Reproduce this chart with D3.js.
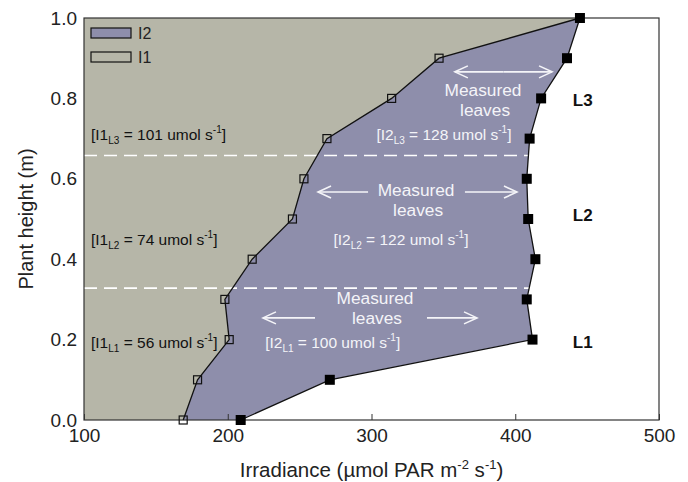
<!DOCTYPE html>
<html>
<head>
<meta charset="utf-8">
<script src="https://cdn.jsdelivr.net/npm/d3@7.9.0/dist/d3.min.js"></script>
<style>
  body { margin: 0; background: #fff; }
  svg { display: block; font-family: "Liberation Sans", Arial, sans-serif; }
</style>
</head>
<body>
<svg id="chart" width="688" height="482"></svg>
<script>
// Data
const heights = [0, 0.1, 0.2, 0.3, 0.4, 0.5, 0.6, 0.7, 0.8, 0.9, 1.0];
const i1 = [169, 179, 201, 198, 217, 245, 253, 269, 314, 347, 445];
const i2 = [209, 271, 412, 408, 414, 409, 408, 410, 418, 436, 445];
const xTicks = [100, 200, 300, 400, 500];
const yTicks = [0, 0.2, 0.4, 0.6, 0.8, 1.0];
const layerBounds = [0.328, 0.658];
const layerNames = ["L1", "L2", "L3"];
const i1Layer = [56, 74, 101];
const i2Layer = [100, 122, 128];

const W = 688, H = 482;
const margin = { top: 18, right: 29, bottom: 62, left: 84 };
const grayFill = "#b6b6a8";
const purpleFill = "#8e8eab";
const ink = "#222";
const light = "#f4f4f8";

const svg = d3.select("#chart");
const x = d3.scaleLinear().domain([100, 500]).range([margin.left, W - margin.right]);
const y = d3.scaleLinear().domain([0, 1]).range([H - margin.bottom, margin.top]);

const pts = heights.map((h, i) => ({ h, a: i1[i], b: i2[i] }));

// Filled areas
svg.append("path")
    .datum(pts)
    .attr("fill", grayFill)
    .attr("d", d3.area().y(d => y(d.h)).x0(x(100)).x1(d => x(d.a)));

svg.append("path")
    .datum(pts)
    .attr("fill", purpleFill)
    .attr("d", d3.area().y(d => y(d.h)).x0(d => x(d.a)).x1(d => x(d.b)));

// Dashed layer boundaries
svg.selectAll(".layer")
    .data(layerBounds)
    .join("line")
    .attr("x1", x(100)).attr("x2", x(500) + 2)
    .attr("y1", d => y(d)).attr("y2", d => y(d))
    .attr("stroke", "#fff")
    .attr("stroke-width", 1.6)
    .attr("stroke-dasharray", "13,7");

// Frame + axes
svg.append("rect")
    .attr("x", x(100)).attr("y", y(1))
    .attr("width", x(500) - x(100)).attr("height", y(0) - y(1))
    .attr("fill", "none").attr("stroke", "#333").attr("stroke-width", 1.2);

const xAxis = svg.append("g")
    .attr("transform", `translate(0,${y(0)})`)
    .call(d3.axisBottom(x).tickValues(xTicks).tickSizeInner(-6).tickSizeOuter(0).tickPadding(9).tickFormat(d3.format("d")));
xAxis.select(".domain").remove();
xAxis.selectAll("line").attr("stroke", "#333");
xAxis.selectAll("text").attr("font-size", 19).attr("fill", ink).attr("font-family", "Liberation Sans, Arial, sans-serif");

const yAxis = svg.append("g")
    .attr("transform", `translate(${x(100)},0)`)
    .call(d3.axisLeft(y).tickValues(yTicks).tickSize(0).tickPadding(7).tickFormat(d3.format(".1f")));
yAxis.select(".domain").remove();
yAxis.selectAll("text").attr("font-size", 19).attr("fill", ink).attr("font-family", "Liberation Sans, Arial, sans-serif");

// Axis titles
const xt = svg.append("text")
    .attr("x", (x(100) + x(500)) / 2).attr("y", 477)
    .attr("text-anchor", "middle").attr("font-size", 20.5).attr("fill", ink);
xt.append("tspan").text("Irradiance (\u00b5mol PAR m");
xt.append("tspan").attr("dy", -8).attr("font-size", 13).text("-2");
xt.append("tspan").attr("dy", 8).text(" s");
xt.append("tspan").attr("dy", -8).attr("font-size", 13).text("-1");
xt.append("tspan").attr("dy", 8).text(")");

svg.append("text")
    .attr("transform", `translate(33,${(y(0) + y(1)) / 2}) rotate(-90)`)
    .attr("text-anchor", "middle").attr("font-size", 20).attr("fill", ink)
    .text("Plant height (m)");

// Lines and markers
const line1 = d3.line().x(d => x(d.a)).y(d => y(d.h));
const line2 = d3.line().x(d => x(d.b)).y(d => y(d.h));
svg.append("path").datum(pts).attr("d", line1).attr("fill", "none").attr("stroke", "#111").attr("stroke-width", 1.3);
svg.append("path").datum(pts).attr("d", line2).attr("fill", "none").attr("stroke", "#111").attr("stroke-width", 1.3);

svg.selectAll(".m1")
    .data(pts.slice(0, -1))
    .join("rect")
    .attr("x", d => x(d.a) - 4).attr("y", d => y(d.h) - 4)
    .attr("width", 8).attr("height", 8)
    .attr("fill", "none").attr("stroke", "#111").attr("stroke-width", 1.2);

svg.selectAll(".m2")
    .data(pts)
    .join("rect")
    .attr("x", d => x(d.b) - 5).attr("y", d => y(d.h) - 5)
    .attr("width", 10).attr("height", 10)
    .attr("fill", "#000");

// Legend
const legend = [{ label: "I2", fill: purpleFill, yy: 28 }, { label: "I1", fill: grayFill, yy: 52 }];
legend.forEach(l => {
    svg.append("rect").attr("x", 91).attr("y", l.yy).attr("width", 40).attr("height", 10)
        .attr("fill", l.fill).attr("stroke", "#111").attr("stroke-width", 1.2);
    svg.append("text").attr("x", 138).attr("y", l.yy + 11).attr("font-size", 16).attr("fill", ink).text(l.label);
});

// Bracketed labels with sub/superscripts
function flux(sel, name, layer, val) {
    sel.append("tspan").text("[" + name);
    sel.append("tspan").attr("dy", 4).attr("font-size", 10).text(layer);
    sel.append("tspan").attr("dy", -4).text(` = ${val} umol s`);
    sel.append("tspan").attr("dy", -7).attr("font-size", 10).text("-1");
    sel.append("tspan").attr("dy", 7).text("]");
}

const i1Y = [0.192, 0.448, 0.709];
i1Layer.forEach((v, k) => {
    const t = svg.append("text").attr("x", 91).attr("y", y(i1Y[k]) + 5)
        .attr("font-size", 15.5).attr("fill", "#111");
    flux(t, "I1", layerNames[k], v);
});

const i2X = [273, 320.5, 350.4];
i2Layer.forEach((v, k) => {
    const t = svg.append("text").attr("x", x(i2X[k])).attr("y", y(i1Y[k]) + 5)
        .attr("text-anchor", "middle").attr("font-size", 15.5).attr("fill", light);
    flux(t, "I2", layerNames[k], v);
});

// Layer names
const lnY = [0.194, 0.51, 0.796];
layerNames.forEach((n, k) => {
    svg.append("text").attr("x", x(440)).attr("y", y(lnY[k]) + 6)
        .attr("font-size", 17).attr("font-weight", "bold").attr("fill", "#111").text(n);
});

// "Measured leaves"
const mlX = [302.4, 331, 377.6];
const mlY = [0.303, 0.572, 0.821];
mlX.forEach((mx, k) => {
    const t = svg.append("text").attr("x", x(mx)).attr("text-anchor", "middle")
        .attr("font-size", 17.3).attr("fill", light);
    t.append("tspan").attr("x", x(mx)).attr("y", y(mlY[k]) + 6).text("Measured");
    t.append("tspan").attr("x", x(mx) + 2).attr("y", y(mlY[k]) + 26).text("leaves");
});

// Arrows: [from, to, height]
const arrows = [
    [260.7, 224.5, 0.254], [338.6, 373.4, 0.254],
    [297.6, 262.8, 0.567], [365, 401.2, 0.567],
    [391.8, 358, 0.866], [391.8, 425.6, 0.866]
];
arrows.forEach(([a, b, h]) => {
    const x1 = x(a), x2 = x(b), yy = y(h);
    const dir = Math.sign(x2 - x1);
    svg.append("line").attr("x1", x1).attr("x2", x2).attr("y1", yy).attr("y2", yy)
        .attr("stroke", light).attr("stroke-width", 1.6);
    svg.append("path")
        .attr("d", `M${x2 - dir * 13},${yy - 6}L${x2},${yy}L${x2 - dir * 13},${yy + 6}`)
        .attr("fill", "none").attr("stroke", light).attr("stroke-width", 1.6);
});
</script>
</body>
</html>
